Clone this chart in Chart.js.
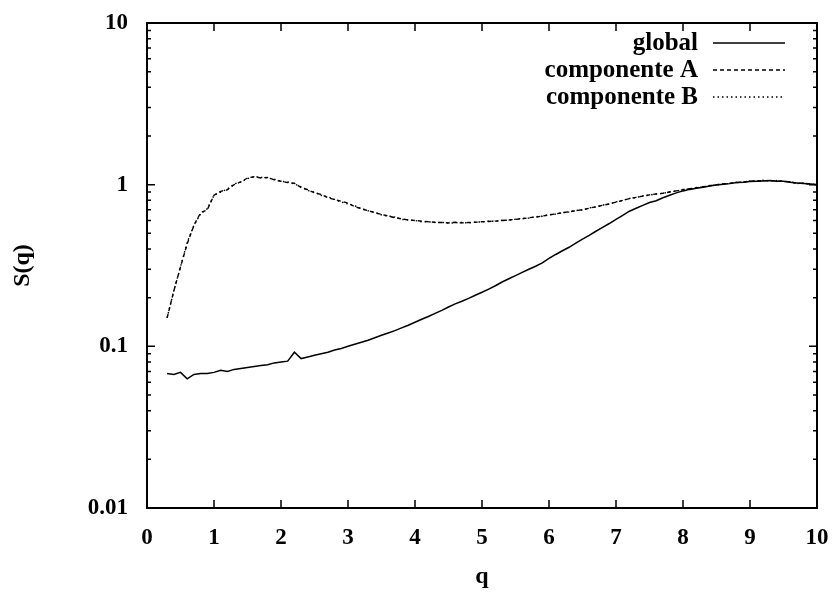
<!DOCTYPE html>
<html>
<head>
<meta charset="utf-8">
<script src="https://cdn.jsdelivr.net/npm/chart.js@4.4.0/dist/chart.umd.min.js"></script>
<style>
  body { margin: 0; background: #fff; }
</style>
</head>
<body>
<canvas id="sqChart" width="836" height="593"></canvas>
<script>
// q values shared by all series
const qValues = [
  0.3, 0.4, 0.5, 0.6, 0.7, 0.8, 0.9, 1.0, 1.1, 1.2,
  1.3, 1.4, 1.5, 1.6, 1.7, 1.8, 1.9, 2.0, 2.1, 2.2,
  2.3, 2.4, 2.5, 2.6, 2.7, 2.8, 2.9, 3.0, 3.1, 3.2,
  3.3, 3.4, 3.5, 3.6, 3.7, 3.8, 3.9, 4.0, 4.1, 4.2,
  4.3, 4.4, 4.5, 4.6, 4.7, 4.8, 4.9, 5.0, 5.1, 5.2,
  5.3, 5.4, 5.5, 5.6, 5.7, 5.8, 5.9, 6.0, 6.1, 6.2,
  6.3, 6.4, 6.5, 6.6, 6.7, 6.8, 6.9, 7.0, 7.1, 7.2,
  7.3, 7.4, 7.5, 7.6, 7.7, 7.8, 7.9, 8.0, 8.1, 8.2,
  8.3, 8.4, 8.5, 8.6, 8.7, 8.8, 8.9, 9.0, 9.1, 9.2,
  9.3, 9.4, 9.5, 9.6, 9.7, 9.8, 9.9, 10.0
];

const globalS = [
  0.068, 0.067, 0.069, 0.063, 0.067, 0.068, 0.068, 0.069, 0.071, 0.070,
  0.072, 0.073, 0.074, 0.075, 0.076, 0.077, 0.079, 0.080, 0.081, 0.092,
  0.084, 0.086, 0.088, 0.090, 0.092, 0.095, 0.097, 0.100, 0.103, 0.106,
  0.109, 0.113, 0.117, 0.121, 0.125, 0.130, 0.135, 0.141, 0.147, 0.153,
  0.160, 0.167, 0.175, 0.183, 0.190, 0.198, 0.207, 0.216, 0.226, 0.237,
  0.250, 0.262, 0.274, 0.287, 0.300, 0.313, 0.328, 0.350, 0.370, 0.390,
  0.410, 0.435, 0.460, 0.485, 0.515, 0.545, 0.575, 0.610, 0.645, 0.685,
  0.715, 0.745, 0.775, 0.795, 0.830, 0.860, 0.890, 0.915, 0.935, 0.950,
  0.965, 0.980, 0.995, 1.005, 1.015, 1.030, 1.035, 1.045, 1.050, 1.055,
  1.060, 1.050, 1.050, 1.035, 1.025, 1.015, 1.010, 1.000
];

const componentA = [
  0.150, 0.220, 0.310, 0.430, 0.560, 0.670, 0.700, 0.860, 0.910, 0.930,
  1.000, 1.040, 1.100, 1.120, 1.100, 1.110, 1.070, 1.050, 1.030, 1.020,
  0.960, 0.930, 0.890, 0.870, 0.830, 0.810, 0.790, 0.770, 0.730, 0.710,
  0.690, 0.670, 0.655, 0.640, 0.625, 0.615, 0.605, 0.600, 0.595, 0.590,
  0.585, 0.583, 0.580, 0.585, 0.580, 0.583, 0.585, 0.590, 0.592, 0.595,
  0.600, 0.605, 0.610, 0.615, 0.625, 0.630, 0.640, 0.650, 0.660, 0.670,
  0.680, 0.690, 0.700, 0.715, 0.730, 0.745, 0.760, 0.780, 0.800, 0.820,
  0.835, 0.850, 0.865, 0.875, 0.885, 0.900, 0.915, 0.930, 0.945, 0.955,
  0.970, 0.985, 1.000, 1.010, 1.020, 1.030, 1.040, 1.050, 1.055, 1.060,
  1.060, 1.055, 1.050, 1.040, 1.020, 1.020, 1.010, 1.000
];

const componentB = [
  0.150, 0.220, 0.310, 0.440, 0.560, 0.660, 0.710, 0.860, 0.900, 0.940,
  1.010, 1.040, 1.090, 1.120, 1.110, 1.100, 1.080, 1.050, 1.040, 1.010,
  0.970, 0.920, 0.900, 0.860, 0.840, 0.810, 0.780, 0.760, 0.740, 0.710,
  0.690, 0.675, 0.650, 0.640, 0.630, 0.610, 0.605, 0.600, 0.590, 0.590,
  0.583, 0.585, 0.578, 0.582, 0.583, 0.580, 0.587, 0.588, 0.595, 0.593,
  0.602, 0.603, 0.612, 0.618, 0.622, 0.633, 0.638, 0.652, 0.658, 0.672,
  0.678, 0.692, 0.698, 0.718, 0.728, 0.748, 0.758, 0.782, 0.798, 0.822,
  0.832, 0.852, 0.862, 0.878, 0.882, 0.905, 0.912, 0.935, 0.940, 0.960,
  0.965, 0.990, 0.995, 1.015, 1.015, 1.035, 1.035, 1.055, 1.050, 1.065,
  1.055, 1.060, 1.045, 1.045, 1.015, 1.025, 1.005, 1.000
];

const xTicks = [0, 1, 2, 3, 4, 5, 6, 7, 8, 9, 10];
const yTicks = [0.01, 0.1, 1, 10];

const FONT = "'Liberation Serif', 'DejaVu Serif', serif";

function toPoints(values) {
  return values.map((v, i) => ({ x: qValues[i], y: v }));
}

// gnuplot style frame with inward ticks
const framePlugin = {
  id: "frame",
  afterDraw(chart) {
    const { ctx, chartArea: a, scales } = chart;
    ctx.save();
    ctx.strokeStyle = "#000";
    ctx.lineWidth = 2;
    ctx.strokeRect(a.left, a.top, a.right - a.left, a.bottom - a.top);

    ctx.lineWidth = 1.5;
    ctx.beginPath();
    xTicks.forEach((t) => {
      const x = scales.x.getPixelForValue(t);
      ctx.moveTo(x, a.bottom);
      ctx.lineTo(x, a.bottom - 8);
      ctx.moveTo(x, a.top);
      ctx.lineTo(x, a.top + 8);
    });
    for (let d = -2; d < 1; d++) {
      for (let m = 1; m <= 10; m++) {
        const v = m * Math.pow(10, d);
        const y = scales.y.getPixelForValue(v);
        const len = m === 1 || m === 10 ? 8 : 4;
        ctx.moveTo(a.left, y);
        ctx.lineTo(a.left + len, y);
        ctx.moveTo(a.right, y);
        ctx.lineTo(a.right - len, y);
      }
    }
    ctx.stroke();

    // legend, text right aligned with line sample on the right
    ctx.font = "bold 25px " + FONT;
    ctx.fillStyle = "#000";
    ctx.textAlign = "right";
    ctx.textBaseline = "middle";
    chart.data.datasets.forEach((ds, i) => {
      const y = 44 + i * 27;
      ctx.fillText(ds.label, 698, y);
      ctx.setLineDash(ds.borderDash || []);
      ctx.lineWidth = 1.3;
      ctx.beginPath();
      ctx.moveTo(713, y - 1);
      ctx.lineTo(785, y - 1);
      ctx.stroke();
    });
    ctx.restore();
  },
};

const ctx = document.getElementById("sqChart").getContext("2d");
new Chart(ctx, {
  type: "line",
  data: {
    datasets: [
      {
        label: "global",
        data: toPoints(globalS),
        borderColor: "#000",
        borderWidth: 1.5,
        pointRadius: 0,
        borderDash: [],
      },
      {
        label: "componente A",
        data: toPoints(componentA),
        borderColor: "#000",
        borderWidth: 1.4,
        pointRadius: 0,
        borderDash: [4, 3],
      },
      {
        label: "componente B",
        data: toPoints(componentB),
        borderColor: "#000",
        borderWidth: 1.4,
        pointRadius: 0,
        borderDash: [1.5, 3],
      },
    ],
  },
  options: {
    responsive: false,
    animation: false,
    layout: { padding: { top: 23, right: 19, left: 0, bottom: 0 } },
    plugins: {
      legend: { display: false },
      tooltip: { enabled: false },
    },
    scales: {
      x: {
        type: "linear",
        min: 0,
        max: 10,
        afterFit: (s) => {
          s.height = 85;
          s.paddingLeft = 0;
          s.paddingRight = 0;
        },
        afterBuildTicks: (s) => { s.ticks = xTicks.map((v) => ({ value: v })); },
        ticks: {
          color: "#000",
          font: { family: FONT, size: 23, weight: "bold" },
          padding: 16,
          maxRotation: 0,
        },
        grid: { display: false, drawTicks: false },
        border: { display: true, color: "#000", width: 2 },
        title: {
          display: true,
          text: "q",
          color: "#000",
          font: { family: FONT, size: 24, weight: "bold" },
          padding: { top: 0, bottom: 2 },
        },
      },
      y: {
        type: "logarithmic",
        min: 0.01,
        max: 10,
        afterFit: (s) => {
          s.width = 147;
          s.paddingTop = 0;
          s.paddingBottom = 0;
        },
        afterBuildTicks: (s) => { s.ticks = yTicks.map((v) => ({ value: v })); },
        ticks: {
          color: "#000",
          font: { family: FONT, size: 23, weight: "bold" },
          padding: 19,
          callback: (v) => String(v),
        },
        grid: { display: false, drawTicks: false },
        border: { display: true, color: "#000", width: 2 },
        title: {
          display: true,
          text: "S(q)",
          color: "#000",
          font: { family: FONT, size: 24, weight: "bold" },
          padding: { top: 8, bottom: 0 },
        },
      },
    },
  },
  plugins: [framePlugin],
});
</script>
</body>
</html>
